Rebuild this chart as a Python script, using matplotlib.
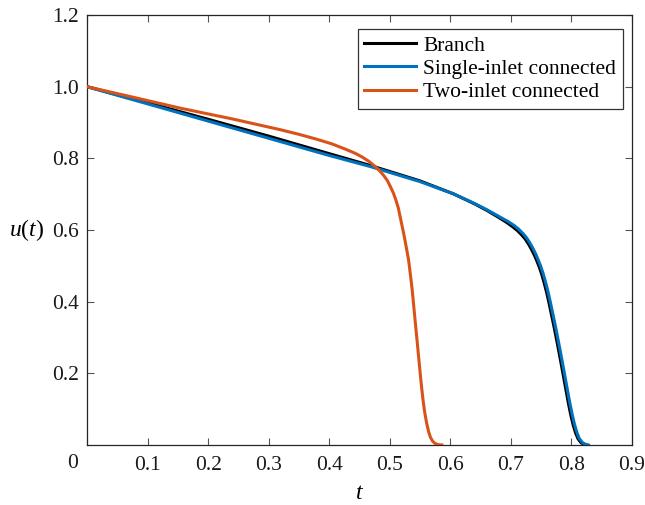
import matplotlib
matplotlib.use("Agg")
import matplotlib.pyplot as plt

plt.rcParams["font.family"] = ["Liberation Serif", "DejaVu Serif"]
plt.rcParams["mathtext.fontset"] = "custom"
plt.rcParams["mathtext.it"] = "Liberation Serif:italic"
plt.rcParams["mathtext.rm"] = "Liberation Serif"

BLUE = "#0072BD"
ORANGE = "#D95319"

# values
t_single = [0.0, 0.1, 0.2, 0.3, 0.4, 0.468, 0.55, 0.605, 0.64, 0.661, 0.68, 0.695,
            0.705, 0.713, 0.72, 0.726, 0.731, 0.736, 0.741, 0.745, 0.749, 0.753,
            0.757, 0.761, 0.765, 0.769, 0.773, 0.777, 0.781, 0.785, 0.789, 0.793,
            0.797, 0.801, 0.805, 0.809, 0.813, 0.818, 0.823, 0.828]
u_single = [1.0, 0.952, 0.904, 0.856, 0.808, 0.777, 0.735, 0.701, 0.674, 0.656, 0.638, 0.624,
            0.613, 0.602, 0.590, 0.578, 0.565, 0.550, 0.533, 0.517, 0.500, 0.480,
            0.456, 0.430, 0.400, 0.368, 0.336, 0.302, 0.267, 0.231, 0.194, 0.157,
            0.120, 0.087, 0.058, 0.035, 0.018, 0.007, 0.002, 0.0]

t_branch = [0.0, 0.1, 0.2, 0.3, 0.4, 0.468, 0.55, 0.605, 0.64, 0.661, 0.68, 0.694,
            0.703, 0.711, 0.718, 0.724, 0.729, 0.734, 0.739, 0.743, 0.747, 0.751,
            0.755, 0.759, 0.763, 0.767, 0.771, 0.775, 0.779, 0.783, 0.787, 0.791,
            0.795, 0.799, 0.803, 0.807, 0.811, 0.816, 0.821, 0.825]
u_branch = [1.0, 0.955, 0.909, 0.862, 0.813, 0.780, 0.737, 0.701, 0.673, 0.654, 0.635, 0.620,
            0.609, 0.598, 0.586, 0.574, 0.561, 0.546, 0.529, 0.513, 0.496, 0.476,
            0.452, 0.426, 0.396, 0.364, 0.332, 0.298, 0.263, 0.227, 0.190, 0.153,
            0.116, 0.083, 0.055, 0.033, 0.017, 0.006, 0.002, 0.0]

t_two = [0.0, 0.075, 0.154, 0.24, 0.319, 0.35, 0.38, 0.405, 0.429, 0.443, 0.455,
         0.466, 0.476, 0.484, 0.49, 0.496, 0.501, 0.506, 0.51, 0.514, 0.517,
         0.520, 0.523, 0.526, 0.528, 0.531, 0.533, 0.535, 0.537, 0.539, 0.541,
         0.543, 0.545, 0.547, 0.549, 0.551, 0.553, 0.555, 0.557, 0.559, 0.561,
         0.564, 0.567, 0.571, 0.575, 0.580, 0.586]
u_two = [1.0, 0.971, 0.940, 0.910, 0.880, 0.867, 0.853, 0.840, 0.824, 0.814, 0.803,
         0.791, 0.777, 0.764, 0.752, 0.738, 0.721, 0.703, 0.684, 0.662, 0.638,
         0.614, 0.590, 0.563, 0.545, 0.517, 0.490, 0.462, 0.433, 0.398, 0.362,
         0.327, 0.293, 0.257, 0.222, 0.187, 0.154, 0.125, 0.099, 0.078, 0.060,
         0.038, 0.022, 0.010, 0.004, 0.001, 0.0]

xticks = [0.0, 0.1, 0.2, 0.3, 0.4, 0.5, 0.6, 0.7, 0.8, 0.9]
yticks = [0.2, 0.4, 0.6, 0.8, 1.0, 1.2]

fig = plt.figure(figsize=(6.45, 5.05), dpi=100)
ax = fig.add_axes([87 / 645, 60 / 505, 545 / 645, 430 / 505])

ax.plot(t_branch, u_branch, color="black", lw=2.2, label="Branch", zorder=2)
ax.plot(t_single, u_single, color=BLUE, lw=2.2, label="Single-inlet connected", zorder=3)
ax.plot(t_two, u_two, color=ORANGE, lw=2.2, label="Two-inlet connected", zorder=4)

ax.set_xlim(0, 0.9)
ax.set_ylim(0, 1.2)
ax.set_xticks(xticks)
ax.set_xticklabels([""] + [f"{v:.1f}" for v in xticks[1:]])
ax.set_yticks(yticks)
ax.set_yticklabels([f"{v:.1f}" for v in yticks])
ax.tick_params(direction="in", length=5, width=0.8, color="#555555",
               top=True, right=True, labelsize=15.5, labelcolor="#1a1a1a")
ax.tick_params(axis="x", pad=8)
ax.tick_params(axis="y", pad=6)
for s in ax.spines.values():
    s.set_linewidth(0.9)
    s.set_color("#262626")

fig.text(73 / 645, 1 - 463 / 505, "0", ha="center", va="center",
         fontsize=15.5, color="#1a1a1a")
ax.set_xlabel("$t$", fontsize=17, labelpad=6)
ax.set_ylabel("$u(t)$", fontsize=17, rotation=0, ha="center", va="center")
ax.yaxis.set_label_coords(-0.11, 0.5)

leg = ax.legend(loc="upper right", bbox_to_anchor=(0.983, 0.967), fontsize=15.5,
                frameon=True, fancybox=False, edgecolor="black",
                handlelength=2.4, handletextpad=0.35, borderpad=0.3,
                labelspacing=0.15, borderaxespad=0)
leg.get_frame().set_linewidth(0.9)

fig.savefig("out.png", dpi=100)
